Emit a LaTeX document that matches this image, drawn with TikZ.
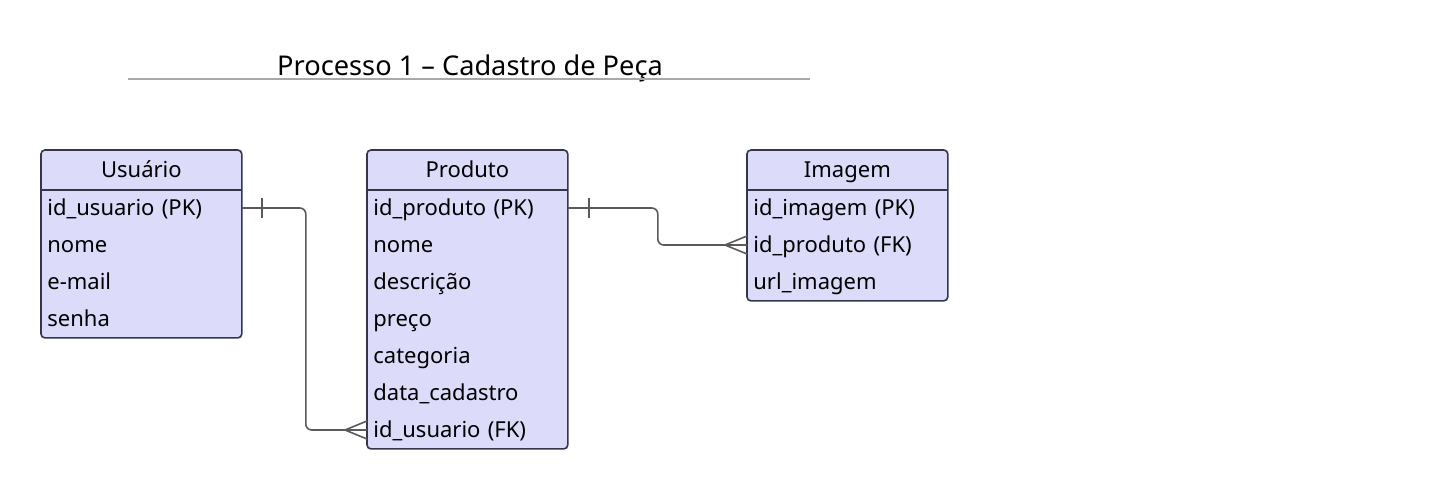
\documentclass[tikz,border=0pt]{standalone}
\usepackage{fontspec}
\setmainfont{Noto Sans}
\usetikzlibrary{positioning,fit,calc,backgrounds}

\definecolor{fundo}{HTML}{DCDCFA}
\definecolor{borda}{HTML}{34374A}
\definecolor{linha}{HTML}{5A5A5A}
\definecolor{regua}{HTML}{A8A8A8}

\tikzset{
    cab/.style={minimum width=100pt, minimum height=19.5pt, inner sep=0pt, text height=8.6pt, text depth=1pt, font=\fontsize{11}{13}\selectfont},
    campo/.style={minimum width=100pt, minimum height=18.5pt, inner xsep=3pt, inner ysep=0pt, text width=94pt, text height=8.6pt, text depth=1pt, align=left, font=\fontsize{11}{13}\selectfont},
    tabela/.style={draw=borda, line width=0.8pt, fill=fundo, rounded corners=2pt, inner sep=0pt},
    rel/.style={draw=linha, line width=0.8pt, rounded corners=3pt},
    marca/.style={draw=linha, line width=0.8pt},
}

\begin{document}
\begin{tikzpicture}[x=0.5pt,y=-0.5pt]
    \useasboundingbox (0,0) rectangle (1448,489);

    % titulo
    \node[font=\fontsize{13.6}{15}\selectfont, text height=10.6pt, text depth=0.2pt] (titulo) at (470,65) {Processo 1 – Cadastro de Peça};
    \draw[regua, line width=0.6pt] (128,79) -- (810,79);

    % Usuario
    \node[cab, anchor=north west] (usuario) at (41,150) {Usuário};
    \node[campo, anchor=west] (u1) at (41,208) {id\_usuario (PK)};
    \node[campo, anchor=west] (u2) at (41,245) {nome};
    \node[campo, anchor=west] (u3) at (41,282) {e-mail};
    \node[campo, anchor=west] (u4) at (41,319) {senha};

    % Produto
    \node[cab, anchor=north west] (produto) at (367,150) {Produto};
    \node[campo, anchor=west] (p1) at (367,208) {id\_produto (PK)};
    \node[campo, anchor=west] (p2) at (367,245) {nome};
    \node[campo, anchor=west] (p3) at (367,282) {descrição};
    \node[campo, anchor=west] (p4) at (367,319) {preço};
    \node[campo, anchor=west] (p5) at (367,356) {categoria};
    \node[campo, anchor=west] (p6) at (367,393) {data\_cadastro};
    \node[campo, anchor=west] (p7) at (367,430) {id\_usuario (FK)};

    % Imagem
    \node[cab, anchor=north west] (imagem) at (747,150) {Imagem};
    \node[campo, anchor=west] (i1) at (747,208) {id\_imagem (PK)};
    \node[campo, anchor=west] (i2) at (747,245) {id\_produto (FK)};
    \node[campo, anchor=west] (i3) at (747,282) {url\_imagem};

    \begin{scope}[on background layer]
        \node[tabela, fit=(usuario)(u4)] (tabU) {};
        \node[tabela, fit=(produto)(p7)] (tabP) {};
        \node[tabela, fit=(imagem)(i3)] (tabI) {};
    \end{scope}
    \draw[borda, line width=0.8pt] (usuario.south west) -- (usuario.south east);
    \draw[borda, line width=0.8pt] (produto.south west) -- (produto.south east);
    \draw[borda, line width=0.8pt] (imagem.south west) -- (imagem.south east);

    % relacoes
    \draw[rel] (u1.east) -- ++(64,0) |- (p7.west);
    \draw[marca] ($(u1.east)+(20,-10)$) -- ++(0,20);
    \draw[marca] ($(p7.west)+(-22,0)$) -- ($(p7.west)+(0,-9)$);
    \draw[marca] ($(p7.west)+(-22,0)$) -- ($(p7.west)+(0,9)$);

    \draw[rel] (p1.east) -- ++(90,0) |- (i2.west);
    \draw[marca] ($(p1.east)+(21,-10)$) -- ++(0,20);
    \draw[marca] ($(i2.west)+(-22,0)$) -- ($(i2.west)+(0,-9)$);
    \draw[marca] ($(i2.west)+(-22,0)$) -- ($(i2.west)+(0,9)$);
\end{tikzpicture}
\end{document}
